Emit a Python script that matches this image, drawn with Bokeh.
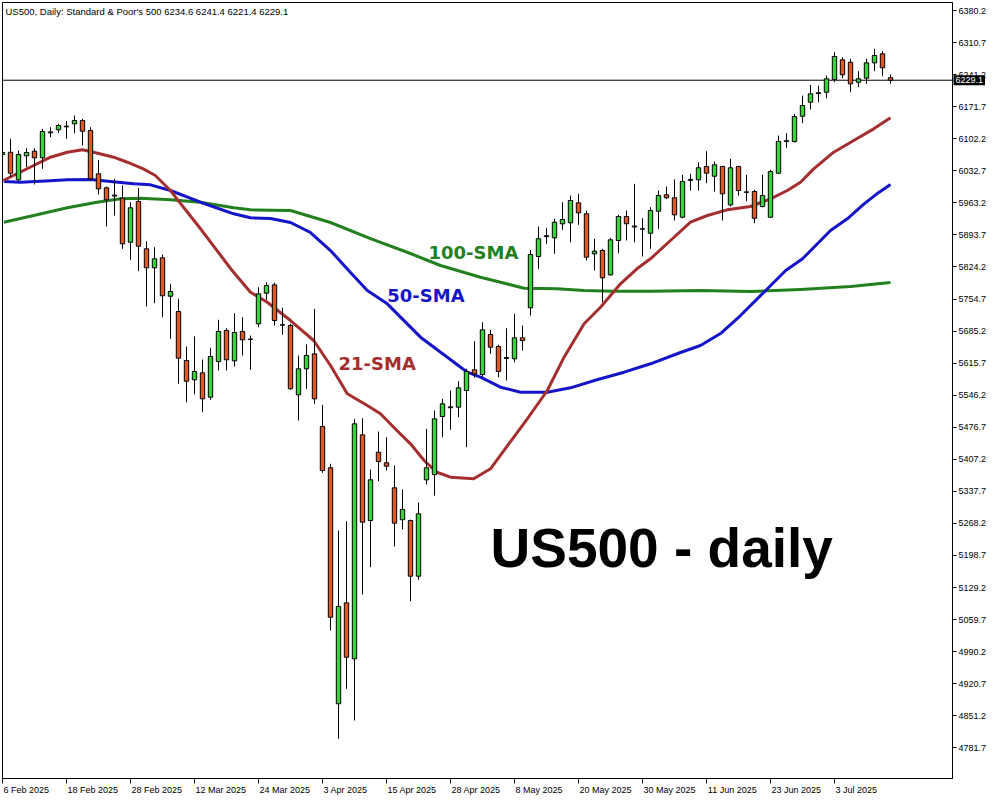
from bokeh.plotting import figure
from bokeh.models import ColumnDataSource, FixedTicker, PrintfTickFormatter, Span, Label, Range1d
from bokeh.embed import file_html
from bokeh.resources import INLINE

# ---- data ----
opens = [6068.0, 6073.0, 6013.2, 6065.2, 6075.2, 6060.9, 6115.0, 6121.6, 6128.0, 6134.6,
         6141.7, 6120.1, 6026.2, 5995.8, 5978.0, 5973.3, 5877.9, 5966.2, 5863.6, 5822.4,
         5844.1, 5760.8, 5727.7, 5621.4, 5579.6, 5594.7, 5541.9, 5619.3, 5686.5, 5620.7,
         5684.3, 5668.0, 5701.0, 5767.3, 5785.5, 5699.0, 5697.3, 5547.1, 5603.4, 5635.9,
         5478.3, 5388.8, 4877.1, 5096.1, 4974.7, 5460.3, 5274.5, 5422.6, 5399.6, 5345.4,
         5276.1, 5274.5, 5153.8, 5362.8, 5374.3, 5500.0, 5519.0, 5520.2, 5556.4, 5601.3,
         5591.1, 5677.8, 5651.8, 5626.0, 5625.1, 5670.6, 5735.7, 5846.9, 5890.0, 5887.4,
         5917.8, 5920.0, 5963.3, 5939.5, 5852.7, 5859.9, 5807.2, 5881.6, 5933.6, 5911.0,
         5907.0, 5897.4, 5945.1, 5980.7, 5974.2, 5932.1, 6012.0, 6013.2, 6042.0, 6021.0,
         6042.0, 5959.0, 6042.0, 5987.0, 5987.8, 5955.3, 5932.1, 6027.5, 6096.0, 6096.2,
         6151.1, 6181.4, 6200.0, 6203.1, 6230.6, 6273.3, 6268.1, 6224.8, 6233.5, 6266.8,
         6286.3, 6234.6]
highs = [6079.0, 6102.1, 6076.7, 6081.7, 6081.7, 6123.8, 6127.2, 6134.6, 6140.2, 6152.6,
         6145.4, 6127.2, 6056.5, 5998.7, 6015.3, 6000.8, 5964.6, 5995.8, 5880.1, 5867.1,
         5851.2, 5787.7, 5755.2, 5651.8, 5673.5, 5623.6, 5649.0, 5709.7, 5691.4, 5724.0,
         5715.3, 5675.6, 5780.3, 5791.2, 5789.9, 5735.7, 5701.0, 5632.3, 5656.1, 5733.5,
         5525.4, 5397.5, 5252.9, 5273.0, 5495.0, 5496.3, 5385.1, 5467.5, 5455.1, 5393.8,
         5341.7, 5276.5, 5313.6, 5473.3, 5513.0, 5538.4, 5556.4, 5576.5, 5603.4, 5663.3,
         5704.5, 5688.0, 5655.5, 5691.4, 5722.7, 5697.3, 5861.4, 5911.9, 5909.1, 5928.6,
         5964.6, 5979.1, 5982.8, 5946.6, 5885.3, 5863.6, 5887.4, 5937.3, 5946.6, 6004.5,
         5929.9, 5953.8, 5990.0, 5998.7, 6013.8, 6024.0, 6026.2, 6051.3, 6075.2, 6052.8,
         6043.5, 6058.7, 6043.5, 6024.0, 5991.5, 6024.0, 6034.9, 6109.2, 6114.2, 6156.3,
         6195.9, 6219.1, 6217.6, 6239.3, 6289.8, 6279.0, 6275.5, 6248.6, 6275.5, 6297.2,
         6292.0, 6241.4]
lows = [6061.5, 6018.8, 6010.1, 6040.5, 6003.0, 6037.0, 6105.5, 6115.1, 6102.1, 6114.2,
        6087.5, 6011.7, 5981.3, 5911.9, 5935.8, 5863.6, 5839.7, 5815.0, 5738.5, 5745.7,
        5715.3, 5668.5, 5570.9, 5531.0, 5547.7, 5509.3, 5536.0, 5599.7, 5599.7, 5608.4,
        5632.3, 5601.3, 5693.6, 5753.0, 5697.3, 5677.1, 5557.9, 5491.3, 5560.1, 5527.5,
        5378.0, 5036.1, 4801.3, 4909.7, 4840.9, 5114.1, 5173.3, 5359.7, 5382.9, 5218.2,
        5255.0, 5099.6, 5146.0, 5352.6, 5328.7, 5455.1, 5471.2, 5498.5, 5433.5, 5583.9,
        5585.2, 5635.9, 5585.2, 5578.1, 5617.7, 5643.1, 5719.0, 5820.2, 5874.4, 5852.7,
        5904.8, 5877.9, 5915.6, 5838.2, 5816.5, 5747.8, 5805.7, 5854.0, 5881.6, 5877.9,
        5846.9, 5863.6, 5906.9, 5972.0, 5924.9, 5929.9, 5990.0, 5990.0, 6005.8, 5987.8,
        5924.9, 5955.3, 5979.1, 5966.8, 5919.1, 5953.0, 5931.0, 6026.0, 6082.6, 6094.0,
        6135.9, 6165.6, 6181.4, 6190.1, 6224.8, 6233.5, 6203.1, 6213.9, 6221.3, 6248.6,
        6237.8, 6221.4]
closes = [6072.4, 6027.5, 6068.0, 6072.4, 6060.9, 6117.9, 6117.0, 6130.9, 6129.5, 6141.7,
          6118.5, 6015.3, 5993.7, 5969.8, 5980.0, 5874.4, 5952.5, 5869.2, 5822.4, 5841.9,
          5761.7, 5771.0, 5626.4, 5576.5, 5597.6, 5538.4, 5630.1, 5684.3, 5622.9, 5682.1,
          5666.3, 5667.0, 5766.0, 5784.0, 5708.1, 5698.0, 5560.1, 5603.4, 5632.3, 5538.4,
          5382.9, 5064.9, 5088.1, 4978.2, 5484.2, 5270.9, 5362.8, 5402.5, 5392.3, 5268.7,
          5298.4, 5153.8, 5289.1, 5388.8, 5495.0, 5527.5, 5521.0, 5562.2, 5597.6, 5592.6,
          5688.0, 5650.3, 5597.6, 5628.0, 5670.6, 5664.8, 5851.2, 5885.3, 5892.0, 5921.3,
          5927.1, 5968.3, 5941.6, 5845.4, 5858.4, 5800.7, 5883.1, 5933.6, 5917.8, 5913.0,
          5906.0, 5946.6, 5979.1, 5974.2, 5937.3, 6009.5, 6014.0, 6039.2, 6027.5, 6045.7,
          5982.8, 6039.2, 5990.0, 5986.0, 5929.9, 5979.1, 6031.2, 6096.2, 6098.0, 6150.4,
          6174.2, 6199.6, 6202.0, 6232.1, 6280.5, 6240.8, 6221.3, 6232.1, 6266.8, 6282.7,
          6256.0, 6229.1]

x_tick_idx = [0, 8, 16, 24, 32, 40, 48, 56, 64, 72, 80, 88, 96, 104]
x_tick_labels = ["6 Feb 2025", "18 Feb 2025", "28 Feb 2025", "12 Mar 2025", "24 Mar 2025",
                 "3 Apr 2025", "15 Apr 2025", "28 Apr 2025", "8 May 2025", "20 May 2025",
                 "30 May 2025", "11 Jun 2025", "23 Jun 2025", "3 Jul 2025"]
y_ticks = [6380.2, 6310.7, 6241.2, 6171.7, 6102.2, 6032.7, 5963.2, 5893.7, 5824.2, 5754.7,
           5685.2, 5615.7, 5546.2, 5476.7, 5407.2, 5337.7, 5268.2, 5198.7, 5129.2, 5059.7,
           4990.2, 4920.7, 4851.2, 4781.7]

sma21_x = [0.1, 3.9, 6, 8.1, 10, 11.9, 13.9, 15.6, 17.6, 19.1, 21, 21.8, 24.75, 28.7, 31, 33.1,
           36, 38.9, 41, 43.1, 45.6, 47.25, 49.3, 51, 52.7, 54.3, 56, 58.9, 61, 65.6, 68.1, 70.2,
           72.7, 74.75, 77.25, 79.3, 81, 83.5, 86, 88.1, 90.6, 93.5, 96, 98.1, 99.75, 101.4,
           103.9, 106.4, 108.9, 111]
sma21_y = [6011.7, 6044.2, 6062.2, 6073.0, 6078.2, 6070.8, 6062.2, 6051.3, 6037.0, 6022.5,
           5990.0, 5972.0, 5907.0, 5816.5, 5769.5, 5747.8, 5708.1, 5664.8, 5610.6, 5549.2,
           5523.9, 5505.9, 5469.7, 5440.8, 5404.6, 5379.2, 5368.4, 5364.9, 5386.6, 5495.0,
           5556.4, 5628.6, 5701.0, 5736.9, 5787.7, 5820.2, 5841.9, 5881.6, 5921.3, 5935.8,
           5948.1, 5955.3, 5972.0, 5990.0, 6008.0, 6037.0, 6073.0, 6098.4, 6123.7, 6147.6]
sma50_x = [0.16, 2.25, 6, 8.1, 11, 13.5, 16.4, 18.5, 21, 24.75, 28.9, 31, 33.5, 36, 38.5, 41,
           43.5, 45.6, 48.1, 52.25, 55.6, 58.1, 59.75, 62.25, 64.75, 68.1, 71, 74.3, 77.7, 81,
           84.75, 87.25, 89.75, 92.25, 95.4, 97.9, 100, 103.5, 105.6, 107.7, 109.3, 111]
sma50_y = [6009.5, 6008.0, 6011.0, 6013.2, 6013.8, 6009.5, 6004.5, 6002.3, 5990.0, 5964.6,
           5939.5, 5930.8, 5929.3, 5920.6, 5898.9, 5859.9, 5812.2, 5773.2, 5744.3, 5672.0,
           5628.6, 5596.1, 5585.2, 5563.6, 5552.7, 5552.7, 5562.2, 5579.6, 5596.1, 5614.3,
           5638.8, 5653.9, 5679.9, 5718.9, 5773.2, 5816.5, 5841.9, 5903.3, 5928.6, 5961.1,
           5982.8, 6003.0]
sma100_x = [0.16, 3.9, 8.1, 11.8, 14.75, 17.25, 21, 24.75, 28.9, 31, 36, 41, 46, 51, 54.75,
            59.75, 62.25, 65.2, 69.3, 72.7, 76.4, 81, 87.25, 93.5, 99.75, 106, 111]
sma100_y = [5921.3, 5935.8, 5952.5, 5964.6, 5972.0, 5973.3, 5969.8, 5964.6, 5952.5, 5948.1,
            5946.6, 5920.6, 5885.9, 5853.4, 5827.4, 5802.0, 5791.2, 5778.2, 5776.8, 5773.2,
            5771.7, 5771.7, 5773.2, 5771.0, 5775.3, 5781.9, 5790.5]

last_price = closes[-1]
header = "US500, Daily:  Standard & Poor's 500  6234.6 6241.4 6221.4 6229.1"

# ---- styles ----
BULL = "#3CD03C"
BEAR = "#DC5A28"
C21 = "#A52F2F"
C50 = "#1414C8"
C100 = "#23801F"
PX_PER_BAR = 8.0
X_END = 950 / PX_PER_BAR
Y_START, Y_END = 4715.2, 6397.6

n = len(closes)
idx = list(range(n))
src = ColumnDataSource(dict(
    x=idx, o=opens, h=highs, l=lows, c=closes,
    top=[max(a, b) for a, b in zip(opens, closes)],
    bot=[min(a, b) for a, b in zip(opens, closes)],
    col=[BULL if c >= o else BEAR for o, c in zip(opens, closes)],
))

p = figure(frame_width=950, frame_height=776,
           x_range=Range1d(0, X_END), y_range=Range1d(Y_START, Y_END),
           output_backend="svg", toolbar_location=None, y_axis_location="right",
           min_border_left=2, min_border_top=2, min_border_right=44, min_border_bottom=16,
           background_fill_color="white", border_fill_color="white")
p.xgrid.visible = False
p.ygrid.visible = False
p.outline_line_color = "black"
p.outline_line_width = 1

# right price axis
ya = p.yaxis[0]
ya.ticker = FixedTicker(ticks=y_ticks)
ya.formatter = PrintfTickFormatter(format="%.1f")
ya.major_tick_out = 4
ya.major_tick_in = 0
ya.minor_tick_line_color = None
ya.major_label_standoff = 2
ya.axis_line_color = "black"
ya.major_tick_line_color = "black"
ya.major_label_text_font = "Liberation Sans"
ya.major_label_text_font_size = "9px"
ya.major_label_text_color = "black"

# bottom date axis: labels left-aligned at their tick (MT5 style).
# tick marks are drawn as "minor" ticks at the bar, labels as (invisible) major ticks
# shifted by half their rendered width.
CW = {" ": 278, "F": 611, "e": 556, "b": 556, "M": 833, "a": 556, "r": 333, "A": 667,
      "p": 556, "y": 500, "J": 500, "u": 556, "n": 556, "l": 222}
def text_w(s, size=9.0):
    return sum(CW.get(ch, 556) for ch in s) * size / 1000.0

label_pos = [t + (1.0 + text_w(s) / 2.0) / PX_PER_BAR for t, s in zip(x_tick_idx, x_tick_labels)]
xa = p.xaxis[0]
xa.ticker = FixedTicker(ticks=label_pos, minor_ticks=x_tick_idx)
xa.major_label_overrides = {pos: s for pos, s in zip(label_pos, x_tick_labels)}
xa.major_tick_out = 5
xa.major_tick_in = 0
xa.major_tick_line_color = None
xa.minor_tick_out = 5
xa.minor_tick_in = 0
xa.minor_tick_line_color = "black"
xa.major_label_standoff = 1
xa.axis_line_color = "black"
xa.major_label_text_font = "Liberation Sans"
xa.major_label_text_font_size = "9px"
xa.major_label_text_color = "black"

# current price line
p.add_layout(Span(location=last_price, dimension="width", line_color="black",
                  line_width=1, level="underlay"))

# moving averages
p.line(sma100_x, sma100_y, line_color=C100, line_width=3, line_join="round")
p.line(sma50_x, sma50_y, line_color=C50, line_width=3, line_join="round")
p.line(sma21_x, sma21_y, line_color=C21, line_width=3, line_join="round")

# candles
p.segment(x0="x", y0="l", x1="x", y1="h", line_color="black", line_width=1, source=src)
p.vbar(x="x", width=0.55, top="top", bottom="bot", fill_color="col",
       line_color="black", line_width=1, source=src)

# texts
p.add_layout(Label(x=53.25, y=5855.0, text="100-SMA", text_font="DejaVu Sans",
                   text_font_style="bold", text_font_size="18px", text_color=C100,
                   text_baseline="alphabetic"))
p.add_layout(Label(x=48.1, y=5763.0, text="50-SMA", text_font="DejaVu Sans",
                   text_font_style="bold", text_font_size="18px", text_color=C50,
                   text_baseline="alphabetic"))
p.add_layout(Label(x=42.0, y=5615.0, text="21-SMA", text_font="DejaVu Sans",
                   text_font_style="bold", text_font_size="18px", text_color=C21,
                   text_baseline="alphabetic"))
p.add_layout(Label(x=61.0, y=5214.0, text="US500 - daily", text_font="Liberation Sans",
                   text_font_style="bold", text_font_size="55px", text_color="black",
                   text_baseline="alphabetic"))
p.add_layout(Label(x=0, y=Y_END, x_offset=3, y_offset=-9, text=header,
                   text_font="Liberation Sans", text_font_size="9.5px", text_color="black",
                   text_baseline="middle"))
# price tag on the price scale
p.add_layout(Label(x=X_END, y=last_price, x_offset=1, text="%.1f" % last_price,
                   text_font="Liberation Sans", text_font_size="9px", text_color="white",
                   text_baseline="middle", text_align="left",
                   background_fill_color="black", padding=2), "right")

open("out.html", "w").write(file_html(p, INLINE))
